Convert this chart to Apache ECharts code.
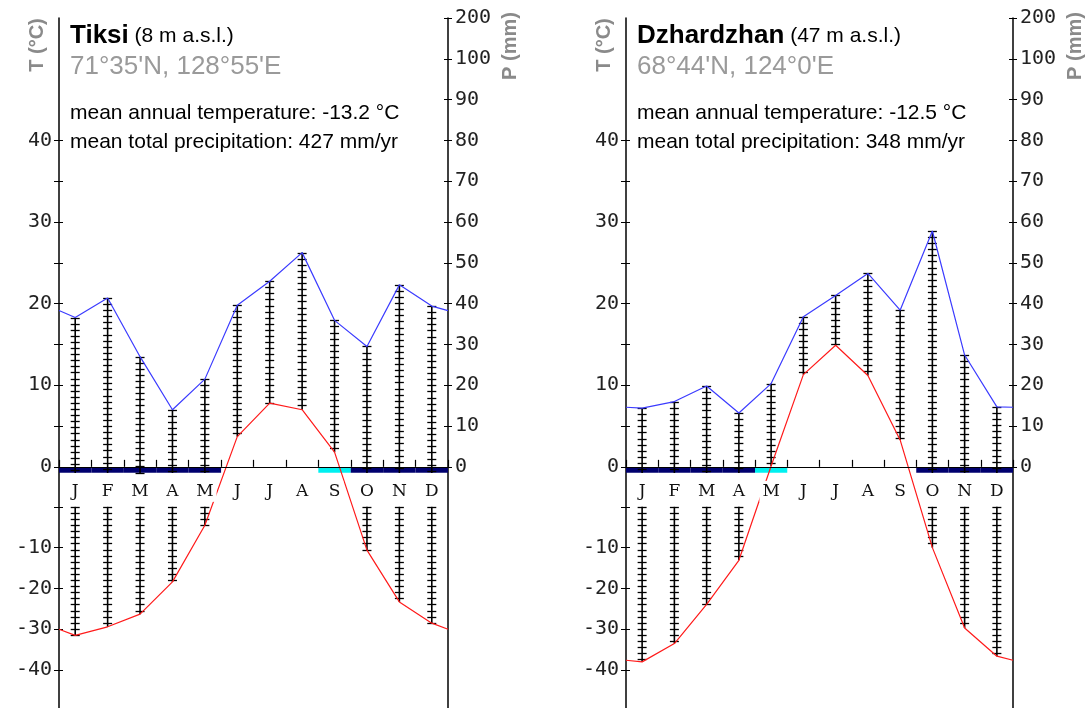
<!DOCTYPE html>
<html>
<head>
<meta charset="utf-8">
<title>Climate diagrams: Tiksi and Dzhardzhan</title>
<script src="https://cdn.jsdelivr.net/npm/echarts@6.0.0/dist/echarts.min.js"></script>
<style>
  html, body { margin: 0; padding: 0; background: #fff; }
  #chart { width: 1087px; height: 708px; }
</style>
</head>
<body>
<div id="chart"></div>
<script>
//--------------------- Data ---------------------------//
const months = ['J', 'F', 'M', 'A', 'M', 'J', 'J', 'A', 'S', 'O', 'N', 'D'];

// Tiksi
const tiksiTemp = [-31.5, -29.4, -26.3, -18.4, -4.5, 3.7, 7.8, 7.0, 1.8, -10.6, -23.3, -28.5];
const tiksiPrec = [36.6, 41.4, 27.0, 14.0, 21.5, 39.6, 45.5, 52.5, 35.9, 29.5, 44.6, 39.4];
const tiksiTempEdge = -30.0;   // value shown on the Dec/Jan border
const tiksiPrecEdge = 38.3;
const tiksiFrost = [2, 2, 2, 2, 2, 0, 0, 0, 1, 2, 2, 2]; // 2 = frost, 1 = possible frost

// Dzhardzhan
const dzhTemp = [-38.0, -33.5, -23.9, -13.1, 0.1, 11.3, 14.9, 11.2, 3.3, -10.0, -29.7, -36.6];
const dzhPrec = [14.4, 16.0, 19.8, 13.2, 20.4, 36.8, 42.0, 47.4, 38.4, 57.8, 27.4, 14.7];
const dzhTempEdge = -37.6;
const dzhPrecEdge = 14.6;
const dzhFrost = [2, 2, 2, 2, 1, 0, 0, 0, 0, 2, 2, 2];

// Axis labels
const tempLabels = [40, 30, 20, 10, 0, -10, -20, -30, -40];
const tempMinorTicks = [35, 25, 15, 5];
const precLabels = [0, 10, 20, 30, 40, 50, 60, 70, 80, 90, 100, 200];


//--------------------- Scales ---------------------------//
// Everything is drawn on one axis unit: 1 unit = 1 °C = 2 mm above zero.
// Below the month row the temperature scale is halved.
const NEG_GAP = 4.9;
const U_MIN = -29.55;
const U_MAX = 55;
const GRID_TOP = 18;
const GRID_H = 708 - GRID_TOP;
const RUNG_STEP = 6.1;

function tempToUnit(t) {
  return t >= 0 ? t : t / 2 - NEG_GAP;
}

function precToUnit(p) {
  return p <= 100 ? p / 2 : 50 + (p - 100) / 20;
}

// Find the label whose unit position is closest to v
function labelFor(values, toUnit) {
  return function (v) {
    let best = values[0];
    values.forEach((x) => {
      if (Math.abs(toUnit(x) - v) < Math.abs(toUnit(best) - v)) best = x;
    });
    return String(best);
  };
}

const numFont = { fontFamily: '"DejaVu Sans Mono", monospace', fontSize: 20, color: '#222' };


//--------------------- Chart parts ---------------------------//
function ladderRender(params, api) {
  const i = api.value(0);
  const t = api.value(1);
  const p = api.value(2);
  const x = api.coord([i + 0.5, 0])[0];
  const children = [];

  function ladder(uTop, uBot) {
    const yTop = api.coord([0, uTop])[1];
    const yBot = api.coord([0, uBot])[1];
    children.push({
      type: 'line',
      shape: { x1: x, y1: yTop, x2: x, y2: yBot },
      style: { stroke: '#000', lineWidth: 1.6 }
    });
    for (let y = yTop; y <= yBot + 0.5; y += RUNG_STEP) {
      children.push({
        type: 'line',
        shape: { x1: x - 4.5, y1: Math.round(y) + 0.5, x2: x + 4.5, y2: Math.round(y) + 0.5 },
        style: { stroke: '#000', lineWidth: 1.3 }
      });
    }
  }

  // humid part above the month row
  const pu = precToUnit(p);
  const base = t > 0 ? t : -0.75;
  if (pu > base) ladder(pu, base);
  // cold part below the month row
  if (t < 0) ladder(-NEG_GAP, tempToUnit(t));

  return { type: 'group', children: children };
}

function frostRender(params, api) {
  const i = api.value(0);
  const kind = api.value(1);
  if (!kind) return null;
  const p0 = api.coord([i, 0]);
  const p1 = api.coord([i + 1, 0]);
  return {
    type: 'rect',
    shape: { x: p0[0], y: p0[1] + 0.5, width: p1[0] - p0[0], height: 5.5 },
    style: { fill: kind === 2 ? '#00006e' : '#00f0f0' }
  };
}

function edgeLine(values, edge, toUnit) {
  const pts = [[0, toUnit(edge)]];
  values.forEach((v, i) => pts.push([i + 0.5, toUnit(v)]));
  pts.push([12, toUnit(edge)]);
  return pts;
}

function station(g, st, option) {
  option.grid.push({
    left: st.left, right: 1087 - st.right, top: GRID_TOP, height: GRID_H,
    containLabel: false, outerBoundsMode: 'none'
  });

  // value axis (for the lines) and category axis (month letters)
  option.xAxis.push({
    gridIndex: g, type: 'value', position: 'bottom', min: 0, max: 12, interval: 1, z: 10,
    axisLine: { onZero: true, lineStyle: { color: '#000', width: 1.2 } },
    axisTick: { inside: true, length: 7, lineStyle: { color: '#000', width: 1.2 } },
    axisLabel: { show: false },
    splitLine: { show: false }
  });
  // month row sits on the zero level of the unit axis
  option.xAxis.push({
    gridIndex: g, type: 'category', position: 'bottom', data: months, boundaryGap: true, z: 10,
    offset: U_MIN * GRID_H / (U_MAX - U_MIN),
    axisLine: { show: false, onZero: false },
    axisTick: { length: 7, lineStyle: { color: '#000', width: 1.2 } },
    axisLabel: {
      margin: 14, fontFamily: '"DejaVu Serif", serif', fontSize: 17, color: '#111',
      backgroundColor: '#fff', padding: [2, 3, 2, 3]
    },
    splitLine: { show: false }
  });

  const tempTickUnits = tempLabels.concat(tempMinorTicks).map(tempToUnit).concat([-NEG_GAP]);
  const precUnits = precLabels.map(precToUnit);
  const common = { gridIndex: g, type: 'value', min: U_MIN, max: U_MAX, splitLine: { show: false } };

  option.yAxis.push(Object.assign({}, common, {
    position: 'left',
    axisLine: { show: true, onZero: false, lineStyle: { color: '#000', width: 1.5 } },
    axisTick: { show: true, length: 5, customValues: tempTickUnits, lineStyle: { color: '#000' } },
    axisLabel: Object.assign({ customValues: tempLabels.map(tempToUnit), margin: 7,
      formatter: labelFor(tempLabels, tempToUnit) }, numFont)
  }));
  option.yAxis.push(Object.assign({}, common, {
    position: 'left',
    axisLine: { show: false, onZero: false },
    axisTick: { show: true, inside: true, length: 4, customValues: tempTickUnits, lineStyle: { color: '#000' } },
    axisLabel: { show: false }
  }));
  option.yAxis.push(Object.assign({}, common, {
    position: 'right',
    axisLine: { show: true, onZero: false, lineStyle: { color: '#000', width: 1.5 } },
    axisTick: { show: true, length: 4, customValues: precUnits, lineStyle: { color: '#000' } },
    axisLabel: Object.assign({ customValues: precUnits, margin: 7,
      formatter: labelFor(precLabels, precToUnit) }, numFont)
  }));
  option.yAxis.push(Object.assign({}, common, {
    position: 'right',
    axisLine: { show: false, onZero: false },
    axisTick: { show: true, inside: true, length: 4, customValues: precUnits, lineStyle: { color: '#000' } },
    axisLabel: { show: false }
  }));

  const xi = 2 * g;
  const yi = 4 * g;

  option.series.push({
    type: 'custom', xAxisIndex: xi, yAxisIndex: yi, z: 1, silent: true,
    renderItem: frostRender,
    data: st.frost.map((f, i) => [i, f])
  });
  option.series.push({
    type: 'custom', xAxisIndex: xi, yAxisIndex: yi, z: 3, silent: true,
    renderItem: ladderRender,
    data: st.temp.map((t, i) => [i, t, st.prec[i]])
  });
  option.series.push({
    type: 'line', xAxisIndex: xi, yAxisIndex: yi, z: 4, silent: true,
    symbol: 'none', data: edgeLine(st.prec, st.precEdge, precToUnit),
    lineStyle: { color: '#3b3bff', width: 1.2 }
  });
  option.series.push({
    type: 'line', xAxisIndex: xi, yAxisIndex: yi, z: 4, silent: true,
    symbol: 'none', data: edgeLine(st.temp, st.tempEdge, tempToUnit),
    lineStyle: { color: '#ff1a1a', width: 1.2 }
  });

  // Texts
  const tx = st.left + 11;
  option.graphic.push(
    {
      type: 'text', x: tx, y: 36,
      style: {
        text: '{b|' + st.name + '}{n| ' + st.elev + '}',
        verticalAlign: 'middle',
        rich: {
          b: { font: 'bold 26px "Liberation Sans", Arial', fill: '#000' },
          n: { font: '21px "Liberation Sans", Arial', fill: '#000' }
        }
      }
    },
    { type: 'text', x: tx, y: 67, style: { text: st.coords, font: '26px "Liberation Sans", Arial', fill: '#9a9a9a', verticalAlign: 'middle' } },
    { type: 'text', x: tx, y: 113, style: { text: 'mean annual temperature: ' + st.meanT + ' °C', font: '21px "Liberation Sans", Arial', fill: '#000', verticalAlign: 'middle' } },
    { type: 'text', x: tx, y: 142, style: { text: 'mean total precipitation: ' + st.totalP + ' mm/yr', font: '21px "Liberation Sans", Arial', fill: '#000', verticalAlign: 'middle' } },
    { type: 'text', x: st.left - 22, y: 45, rotation: Math.PI / 2, style: { text: 'T (°C)', font: 'bold 20px "Liberation Sans", Arial', fill: '#8a8a8a', align: 'center', verticalAlign: 'middle' } },
    { type: 'text', x: st.right + 62, y: 46, rotation: Math.PI / 2, style: { text: 'P (mm)', font: 'bold 20px "Liberation Sans", Arial', fill: '#8a8a8a', align: 'center', verticalAlign: 'middle' } }
  );
}


//--------------------- Main ---------------------------//
const option = { animation: false, backgroundColor: '#fff', grid: [], xAxis: [], yAxis: [], series: [], graphic: [] };

station(0, {
  left: 59, right: 448, name: 'Tiksi', elev: '(8 m a.s.l.)', coords: "71°35'N, 128°55'E",
  meanT: '-13.2', totalP: 427,
  temp: tiksiTemp, prec: tiksiPrec, tempEdge: tiksiTempEdge, precEdge: tiksiPrecEdge, frost: tiksiFrost
}, option);

station(1, {
  left: 626, right: 1013, name: 'Dzhardzhan', elev: '(47 m a.s.l.)', coords: "68°44'N, 124°0'E",
  meanT: '-12.5', totalP: 348,
  temp: dzhTemp, prec: dzhPrec, tempEdge: dzhTempEdge, precEdge: dzhPrecEdge, frost: dzhFrost
}, option);

const myChart = echarts.init(document.getElementById('chart'));
myChart.setOption(option);
</script>
</body>
</html>
